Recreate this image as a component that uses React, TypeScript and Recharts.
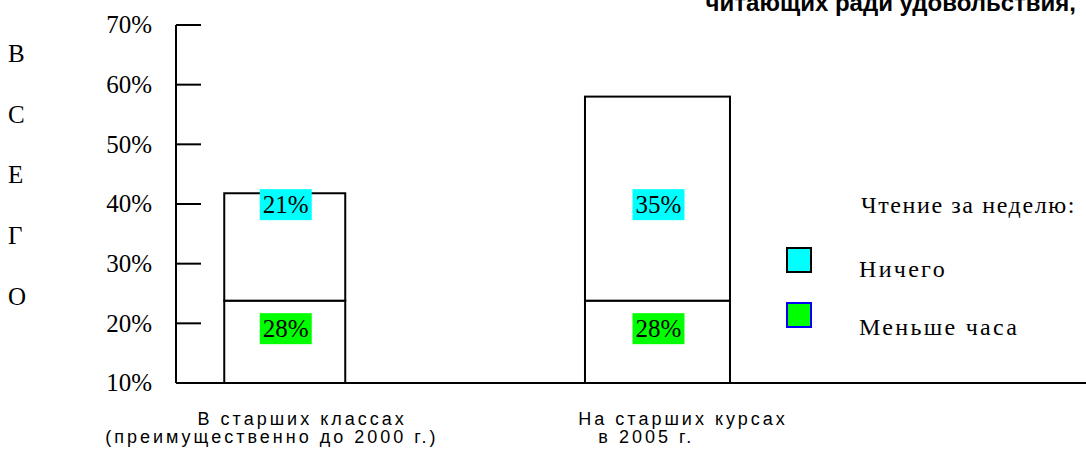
import React from 'react';
import { BarChart, Bar, XAxis, YAxis, LabelList, Legend } from 'recharts';

// ---- data ----
const categoryLine1 = ['В старших классах', 'На старших курсах'];
const categoryLine2 = ['(преимущественно до 2000 г.)', 'в 2005 г.'];
const lessThanHour = [23.8, 23.8]; // drawn top of lower segment
const nothing = [18.0, 34.2]; // drawn height of upper segment
const lessThanHourLabels = ['28%', '28%'];
const nothingLabels = ['21%', '35%'];
const yTicks = [10, 20, 30, 40, 50, 60, 70];
const sideTitle = ['В', 'С', 'Е', 'Г', 'О'];
const legendTitle = 'Чтение за неделю:';
const topTitle = 'читающих ради удовольствия,';

const data = categoryLine1.map((c, i) => ({
  pos: i + 1,
  line1: c,
  line2: categoryLine2[i],
  less: lessThanHour[i],
  nothing: nothing[i],
  lessLabel: lessThanHourLabels[i],
  nothingLabel: nothingLabels[i],
}));

// ---- styles ----
const SERIF = '"Liberation Serif", "Times New Roman", serif';
const SANS = '"Liberation Sans", Arial, sans-serif';
const NARROW = '"Liberation Sans Narrow", "Liberation Sans", Arial, sans-serif';
const CYAN = '#00FFFF';
const GREEN = '#00FF00';
const BAR_WIDTHS = [121, 145];
const TICK_LAYOUT = [
  { dx1: -87, anchor1: 'start', dx2: 154, anchor2: 'end' },
  { dx1: -79, anchor1: 'start', dx2: -59, anchor2: 'start' },
];

const SegmentShape = (props: any) => {
  const { x, y, width, height, index } = props;
  const cx = x + width / 2;
  const w = BAR_WIDTHS[index] ?? width;
  return (
    <rect x={cx - w / 2} y={y} width={w} height={height} fill="#fff" stroke="#000" strokeWidth={2} />
  );
};

const makeLabel = (color: string, place: (y: number, h: number) => number) => (props: any) => {
  const { x, y, width, height, value } = props;
  const cx = x + width / 2;
  const cy = place(y, height);
  const bw = 52;
  const bh = 31;
  return (
    <g>
      <rect x={cx - bw / 2 + 1} y={cy - bh / 2} width={bw} height={bh} fill={color} />
      <text x={cx + 1} y={cy} dy="0.35em" textAnchor="middle" fontFamily={SERIF} fontSize={25} fill="#000">
        {value}
      </text>
    </g>
  );
};

const YTick = (props: any) => {
  const { x, y, payload } = props;
  return (
    <g>
      <line x1={x} x2={x + 25} y1={y} y2={y} stroke="#000" strokeWidth={2} />
      <text x={x - 24} y={y} dy="0.33em" textAnchor="end" fontFamily={SERIF} fontSize={25} fill="#000">
        {payload.value}%
      </text>
    </g>
  );
};

const XTick = (props: any) => {
  const { x, y, payload } = props;
  const i = payload.value - 1;
  const d = data[i];
  const L = TICK_LAYOUT[i];
  if (!d) return null;
  return (
    <g fontFamily={NARROW} fontSize={18} fill="#000" letterSpacing={3}>
      <text x={x + L.dx1} y={y + 42} textAnchor={L.anchor1 as any}>{d.line1}</text>
      <text x={x + L.dx2} y={y + 60} textAnchor={L.anchor2 as any}>{d.line2}</text>
    </g>
  );
};

const LegendContent = (props: any) => {
  const items = [...(props.payload || [])].reverse();
  const borders = ['#000', '#0000FF'];
  return (
    <svg width={306} height={170} style={{ display: 'block' }}>
      <text x={81} y={33} fontFamily={SERIF} fontSize={24} letterSpacing={1.6} fill="#000">
        {legendTitle}
      </text>
      {items.map((p: any, i: number) => (
        <g key={p.value}>
          <rect x={7} y={68 + i * 55} width={24} height={24} fill={p.color} stroke={borders[i]} strokeWidth={2} />
          <text x={79} y={97 + i * 58} fontFamily={SERIF} fontSize={24} letterSpacing={2.3} fill="#000">
            {p.value}
          </text>
        </g>
      ))}
    </svg>
  );
};

export default function App() {
  return (
    <div style={{ position: 'absolute', left: 0, top: 0, width: 1086, height: 454, background: '#fff' }}>
      <BarChart
        width={1086}
        height={454}
        data={data}
        margin={{ top: 25, right: 0, bottom: 11, left: 100 }}
        barSize={133}
      >
        <XAxis
          type="number"
          dataKey="pos"
          domain={[0.7086, 3.15]}
          ticks={[1, 2]}
          allowDataOverflow
          height={60}
          axisLine={{ stroke: '#000', strokeWidth: 2 }}
          tickLine={false}
          tickSize={0}
          tickMargin={0}
          tick={<XTick />}
          interval={0}
        />
        <YAxis
          type="number"
          domain={[10, 70]}
          ticks={yTicks}
          allowDataOverflow
          width={76}
          axisLine={{ stroke: '#000', strokeWidth: 2 }}
          tickLine={false}
          tickSize={0}
          tickMargin={0}
          tick={<YTick />}
          interval={0}
        />
        <Legend
          layout="horizontal"
          verticalAlign="middle"
          align="center"
          wrapperStyle={{ left: 780, top: 180, width: 306, height: 170 }}
          content={<LegendContent />}
        />
        <Bar dataKey="less" name="Меньше часа" stackId="a" fill={GREEN} shape={<SegmentShape />} isAnimationActive={false}>
          <LabelList dataKey="lessLabel" content={makeLabel(GREEN, (y) => y + 28)} />
        </Bar>
        <Bar dataKey="nothing" name="Ничего" stackId="a" fill={CYAN} shape={<SegmentShape />} isAnimationActive={false}>
          <LabelList dataKey="nothingLabel" content={makeLabel(CYAN, (y, h) => y + h - 96)} />
        </Bar>
      </BarChart>
      <svg
        width={1086}
        height={454}
        style={{ position: 'absolute', left: 0, top: 0, pointerEvents: 'none' }}
      >
        <text x={1076} y={11} textAnchor="end" fontFamily={SANS} fontWeight="bold" fontSize={24} fill="#000">
          {topTitle}
        </text>
        {sideTitle.map((ch, i) => (
          <text key={i} x={8} y={62 + i * 60.7} fontFamily={SERIF} fontSize={25} fill="#000">
            {ch}
          </text>
        ))}
      </svg>
    </div>
  );
}
